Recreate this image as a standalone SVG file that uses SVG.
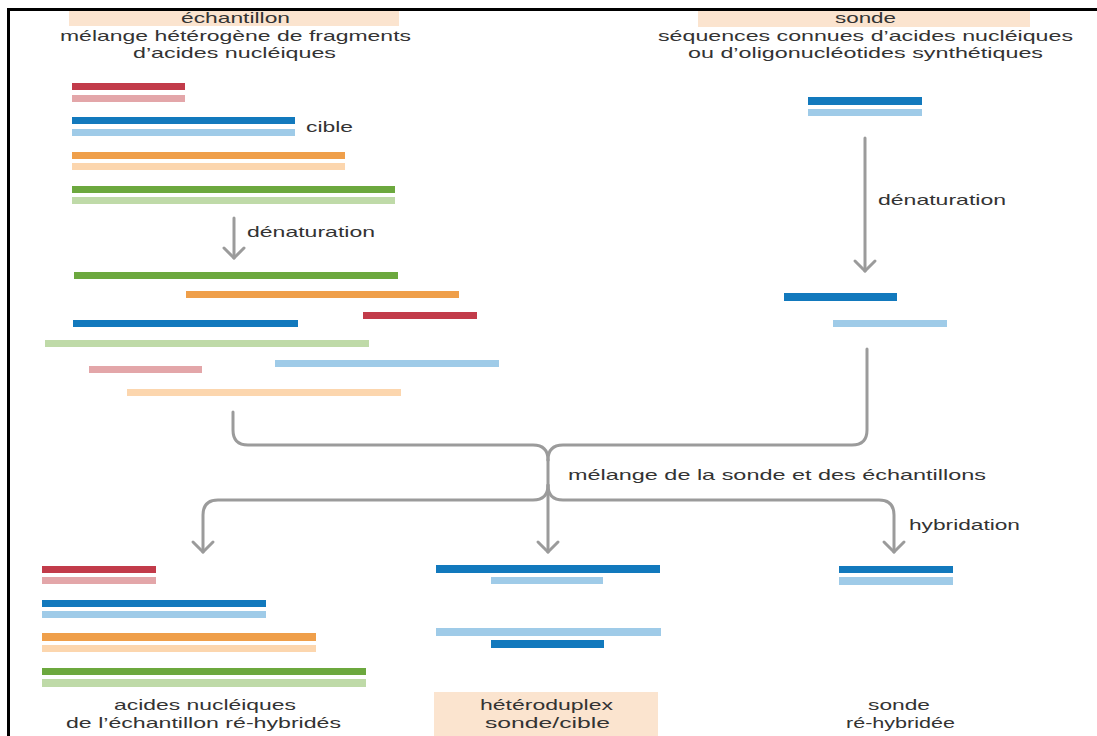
<svg xmlns="http://www.w3.org/2000/svg" width="1097" height="736" viewBox="0 0 1097 736">
<style>
  text { font-family: "Liberation Sans", Arial, sans-serif; font-size: 15px; fill: #333333; }
  .hdr { fill: #fbe4cf; }
  .rd { fill: #c23b4a; } .rp { fill: #e3a6a9; }
  .bd { fill: #1279bd; } .bp { fill: #9fcbe8; }
  .od { fill: #ef9f4a; } .op { fill: #fcd6ae; }
  .gd { fill: #6ca83e; } .gp { fill: #bfdaa8; }
  .conn { fill: none; stroke: #9b9b9b; stroke-width: 3; stroke-linecap: round; stroke-linejoin: round; }
  .frame { stroke: #000; stroke-width: 3; fill: none; }
</style>
<rect x="0" y="0" width="1097" height="736" fill="#ffffff"/>
<path class="frame" d="M8.5,736 V9.5 H1097"/>

<g id="header-sample">
  <rect class="hdr" x="69" y="11" width="330" height="15"/>
  <text x="181" y="23" textLength="109" lengthAdjust="spacingAndGlyphs">échantillon</text>
  <text x="60" y="41" textLength="351" lengthAdjust="spacingAndGlyphs">mélange hétérogène de fragments</text>
  <text x="133" y="58" textLength="203" lengthAdjust="spacingAndGlyphs">d’acides nucléiques</text>
</g>

<g id="header-probe">
  <rect class="hdr" x="698" y="11" width="332" height="16"/>
  <text x="835" y="23" textLength="61" lengthAdjust="spacingAndGlyphs">sonde</text>
  <text x="658" y="41" textLength="415" lengthAdjust="spacingAndGlyphs">séquences connues d’acides nucléiques</text>
  <text x="688" y="58" textLength="355" lengthAdjust="spacingAndGlyphs">ou d’oligonucléotides synthétiques</text>
</g>

<g id="sample-duplexes">
  <rect class="rd" x="72" y="83" width="113" height="7"/>
  <rect class="rp" x="72" y="95" width="113" height="7"/>
  <rect class="bd" x="72" y="117" width="223" height="7"/>
  <rect class="bp" x="72" y="129" width="223" height="7"/>
  <rect class="od" x="72" y="152" width="273" height="7"/>
  <rect class="op" x="72" y="163" width="273" height="7"/>
  <rect class="gd" x="72" y="186" width="323" height="7"/>
  <rect class="gp" x="72" y="197" width="323" height="7"/>
  <text x="306" y="132" textLength="47" lengthAdjust="spacingAndGlyphs">cible</text>
</g>

<g id="denatured-sample">
  <rect class="gd" x="74" y="272" width="324" height="7"/>
  <rect class="od" x="186" y="291" width="273" height="7"/>
  <rect class="rd" x="363" y="312" width="114" height="7"/>
  <rect class="bd" x="73" y="320" width="225" height="7"/>
  <rect class="gp" x="45" y="340" width="324" height="7"/>
  <rect class="bp" x="275" y="360" width="224" height="7"/>
  <rect class="rp" x="89" y="366" width="113" height="7"/>
  <rect class="op" x="127" y="389" width="274" height="7"/>
</g>

<g id="probe-duplex">
  <rect class="bd" x="808" y="97" width="114" height="8"/>
  <rect class="bp" x="808" y="109" width="114" height="7"/>
</g>

<g id="denatured-probe">
  <rect class="bd" x="784" y="293" width="113" height="8"/>
  <rect class="bp" x="833" y="320" width="114" height="7"/>
</g>

<g id="result-sample">
  <rect class="rd" x="42" y="566" width="114" height="7"/>
  <rect class="rp" x="42" y="577" width="114" height="7"/>
  <rect class="bd" x="42" y="600" width="224" height="7"/>
  <rect class="bp" x="42" y="611" width="224" height="7"/>
  <rect class="od" x="42" y="633" width="274" height="8"/>
  <rect class="op" x="42" y="645" width="274" height="7"/>
  <rect class="gd" x="42" y="668" width="324" height="7"/>
  <rect class="gp" x="42" y="679" width="324" height="8"/>
  <text x="114" y="710" textLength="182" lengthAdjust="spacingAndGlyphs">acides nucléiques</text>
  <text x="66" y="728" textLength="275" lengthAdjust="spacingAndGlyphs">de l’échantillon ré-hybridés</text>
</g>

<g id="result-heteroduplex">
  <rect class="bd" x="436" y="565" width="224" height="8"/>
  <rect class="bp" x="491" y="577" width="112" height="7"/>
  <rect class="bp" x="436" y="628" width="225" height="8"/>
  <rect class="bd" x="491" y="640" width="113" height="8"/>
  <rect class="hdr" x="434" y="692" width="224" height="44"/>
  <text x="480" y="710" textLength="133" lengthAdjust="spacingAndGlyphs">hétéroduplex</text>
  <text x="485" y="728" textLength="125" lengthAdjust="spacingAndGlyphs">sonde/cible</text>
</g>

<g id="result-probe">
  <rect class="bd" x="839" y="566" width="114" height="7"/>
  <rect class="bp" x="839" y="577" width="114" height="8"/>
  <text x="868" y="710" textLength="62" lengthAdjust="spacingAndGlyphs">sonde</text>
  <text x="846" y="728" textLength="109" lengthAdjust="spacingAndGlyphs">ré-hybridée</text>
</g>

<g id="connectors">
  <path class="conn" d="M234,218 V258"/>
  <path class="conn" d="M224,248 L234,258 L244,248"/>
  <text x="247" y="237" textLength="128" lengthAdjust="spacingAndGlyphs">dénaturation</text>

  <path class="conn" d="M865,138 V271"/>
  <path class="conn" d="M855,261 L865,271 L875,261"/>
  <text x="878" y="205" textLength="128" lengthAdjust="spacingAndGlyphs">dénaturation</text>

  <path class="conn" d="M233,412 V430 Q233,445 248,445 H533 Q548,445 548,460"/>
  <path class="conn" d="M867,349 V430 Q867,445 852,445 H563 Q548,445 548,460"/>
  <path class="conn" d="M548,460 V552"/>
  <path class="conn" d="M548,485 Q548,500 533,500 H218 Q203,500 203,515 V552"/>
  <path class="conn" d="M548,485 Q548,500 563,500 H879 Q894,500 894,515 V552"/>
  <path class="conn" d="M193,542 L203,552 L213,542"/>
  <path class="conn" d="M538,542 L548,552 L558,542"/>
  <path class="conn" d="M884,542 L894,552 L904,542"/>
  <text x="568" y="480" textLength="418" lengthAdjust="spacingAndGlyphs">mélange de la sonde et des échantillons</text>
  <text x="909" y="530" textLength="111" lengthAdjust="spacingAndGlyphs">hybridation</text>
</g>
</svg>
